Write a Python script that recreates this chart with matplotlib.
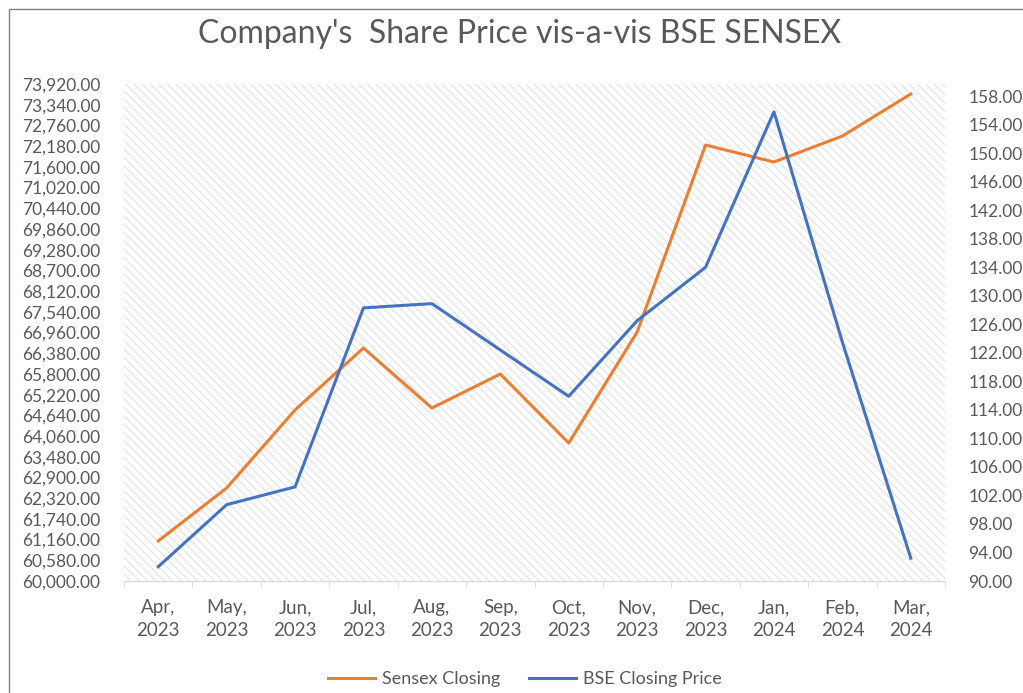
import numpy as np
import matplotlib.pyplot as plt
from matplotlib.patches import Rectangle

# Monthly closing values, Apr 2023 - Mar 2024
months = ["Apr,\n2023", "May,\n2023", "Jun,\n2023", "Jul,\n2023", "Aug,\n2023", "Sep,\n2023",
          "Oct,\n2023", "Nov,\n2023", "Dec,\n2023", "Jan,\n2024", "Feb,\n2024", "Mar,\n2024"]
sensex = [61120, 62605, 64790, 66526, 64845, 65797, 63865, 66973, 72211, 71735, 72463, 73640]
bse_price = [92.0, 100.7, 103.2, 128.3, 128.9, 122.4, 115.9, 126.5, 134.0, 155.8, 123.5, 93.2]

left_ticks = np.arange(60000, 73921, 580)
right_ticks = np.arange(90, 159, 4)

grey = "#595959"
plt.rcParams['font.family'] = ['Lato', 'DejaVu Sans']
plt.rcParams['hatch.linewidth'] = 0.6
plt.rcParams['hatch.color'] = '#d9d9d9'

fig = plt.figure(figsize=(10.23, 6.93), dpi=100)
ax = fig.add_axes([124/1023, 1 - 581/693, (945-124)/1023, (581-84)/693])
ax2 = ax.twinx()

x = np.arange(len(months))
ax.plot(x, sensex, color="#ED7D31", lw=2.2, label="Sensex Closing", solid_joinstyle='round')
ax2.plot(x, bse_price, color="#4472C4", lw=2.2, label="BSE Closing Price", solid_joinstyle='round')

# hatched plot area
ax.patch.set_facecolor('white')
ax.patch.set_hatch('\\\\\\\\')
ax.patch.set_edgecolor('#d9d9d9')
ax.patch.set_linewidth(0)

ax.set_xlim(-0.5, len(months) - 0.5)
ax.set_ylim(60000, 73920)
ax2.set_ylim(90, 159.7)
ax.set_yticks(left_ticks)
ax.set_yticklabels([f"{v:,.2f}" for v in left_ticks])
ax2.set_yticks(right_ticks)
ax2.set_yticklabels([f"{v:.2f}" for v in right_ticks])

ax.set_xticks(x)
ax.set_xticklabels(months)
for lbl in ax.get_xticklabels():
    lbl.set_linespacing(1.45)
ax.set_xticks(np.arange(-0.5, len(months)), minor=True)
ax.tick_params(axis='x', which='major', length=0, pad=13, labelsize=13.5, labelcolor=grey)
ax.tick_params(axis='x', which='minor', length=5, color='#d9d9d9')
ax.tick_params(axis='y', length=0, pad=17, labelsize=12.5, labelcolor=grey)
ax2.tick_params(axis='y', length=0, pad=17, labelsize=12.5, labelcolor=grey)

for a in (ax, ax2):
    for s in ('top', 'left', 'right'):
        a.spines[s].set_visible(False)
    a.spines['bottom'].set_color('#d9d9d9')

fig.text(0.508, 0.951, "Company's  Share Price vis-a-vis BSE SENSEX", ha='center', va='center',
         fontsize=23, color=grey)

h1, l1 = ax.get_legend_handles_labels()
h2, l2 = ax2.get_legend_handles_labels()
fig.legend(h1 + h2, l1 + l2, loc='center', bbox_to_anchor=(0.513, 0.02), ncol=2, frameon=False,
           fontsize=13, labelcolor=grey, handlelength=2.6, columnspacing=1.6, handletextpad=0.4)

# chart border
fig.add_artist(Rectangle((9/1023, -0.1), 1.2, 1 - 9/693 + 0.1, transform=fig.transFigure,
                         fill=False, edgecolor='#808080', lw=1.0))

fig.savefig("out.png", dpi=100)
